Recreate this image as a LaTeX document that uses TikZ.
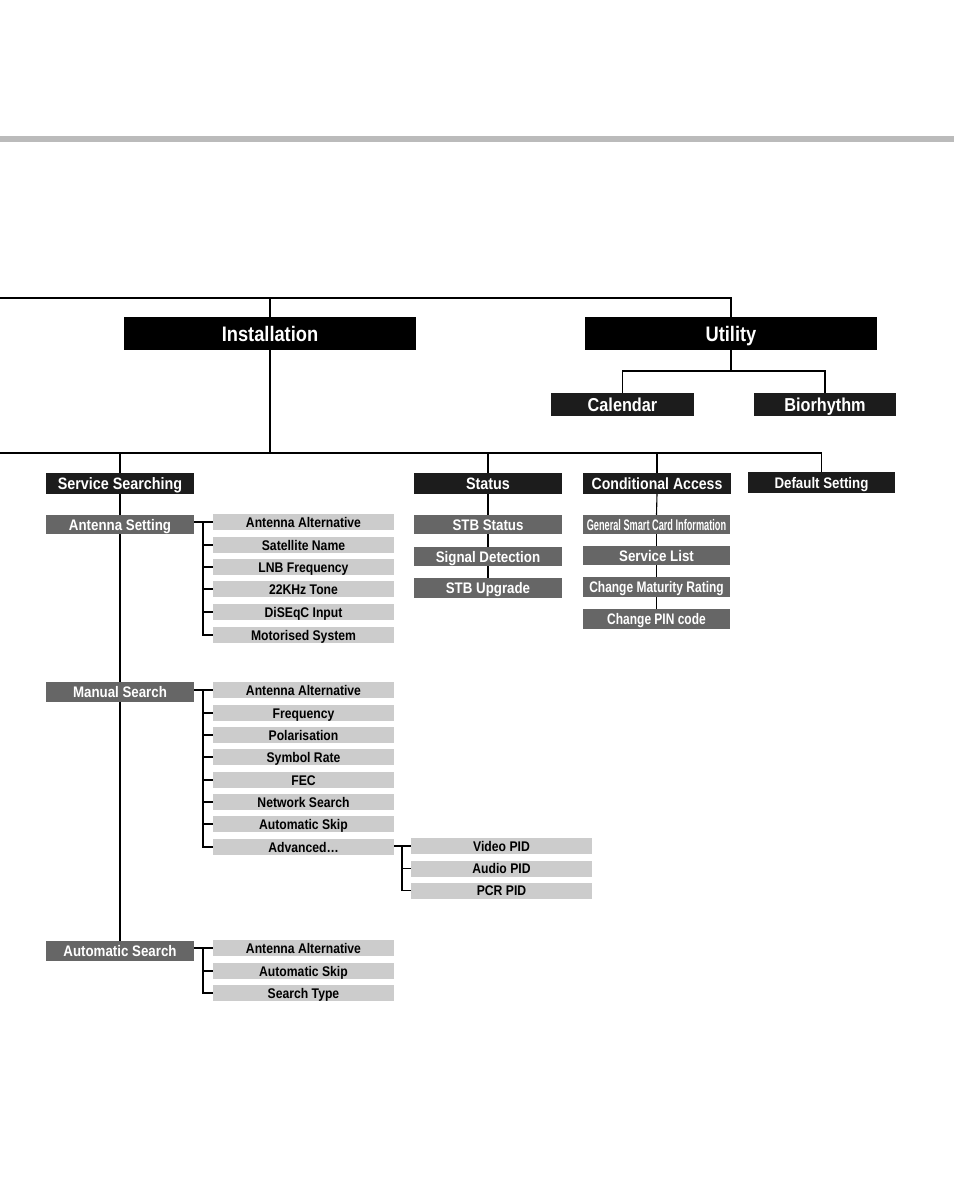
\documentclass[tikz,border=0pt]{standalone}
\usepackage{fontspec}
\newfontfamily\hv[FakeStretch=0.87]{Liberation Sans}
\usetikzlibrary{calc}
\definecolor{lvltwo}{HTML}{1C1C1C}
\definecolor{lvlthree}{HTML}{666666}
\definecolor{lvlfour}{HTML}{CCCCCC}
\definecolor{band}{HTML}{BBBBBB}
\tikzset{
  box/.style={inner sep=0pt, outer sep=0pt, text depth=0pt},
  lone/.style={box, fill=black, text=white, minimum width=292, minimum height=33,
    text height=15pt, font=\hv\bfseries\fontsize{21}{24}\selectfont},
  ltwo/.style={box, fill=lvltwo, text=white, minimum width=148, minimum height=21,
    text height=11.8pt, font=\hv\bfseries\fontsize{16.5}{18}\selectfont},
  lthree/.style={box, fill=lvlthree, text=white, minimum width=148, minimum height=19.5,
    text height=11pt, font=\hv\bfseries\fontsize{15.3}{17}\selectfont},
  lfour/.style={box, fill=lvlfour, text=black, minimum width=181, minimum height=16,
    text height=10pt, font=\hv\bfseries\fontsize{14}{15}\selectfont},
  conn/.style={draw=black, line width=1.1pt},
}
\begin{document}
\begin{tikzpicture}[x=1pt,y=-1pt]
\useasboundingbox (0,0) rectangle (954,1191);
\fill[band] (0,136) rectangle (954,142);

% level 1
\node[lone] (inst) at (270,333.5) {Installation};
\node[lone] (util) at (731,333.5) {Utility};

% utility children
\node[ltwo, minimum width=143, minimum height=23, text height=13.4pt, font=\hv\bfseries\fontsize{18.7}{20}\selectfont] (cal) at (622.5,404.5) {Calendar};
\node[ltwo, minimum width=142, minimum height=23, text height=13.4pt, font=\hv\bfseries\fontsize{18.7}{20}\selectfont] (bio) at (825,404.5) {Biorhythm};

% installation children
\node[ltwo] (ss) at (120,483.5) {Service Searching};
\node[ltwo] (st) at (488,483.5) {Status};
\node[ltwo, text height=11.6pt, font=\hv\bfseries\fontsize{16.2}{18}\selectfont] (ca) at (657,483.5) {Conditional Access};
\node[ltwo, minimum width=147, text height=11pt, font=\hv\bfseries\fontsize{15.3}{17}\selectfont] (ds) at (821.5,482.5) {Default Setting};

% service searching children
\node[lthree] (ant) at (120,524.5) {Antenna Setting};
\node[lthree] (man) at (120,692) {Manual Search};
\node[lthree] (aut) at (120,951) {Automatic Search};

% status children
\node[lthree] (stb) at (488,524.5) {STB Status};
\node[lthree] (sig) at (488,556.5) {Signal Detection};
\node[lthree] (upg) at (488,588) {STB Upgrade};

% conditional access children
\node[lthree, minimum width=147] (gsc) at (656.5,524.5) {\scalebox{0.69}[1]{General Smart Card Information}};
\node[lthree, minimum width=147] (svl) at (656.5,555.5) {Service List};
\node[lthree, minimum width=147] (cmr) at (656.5,587) {\scalebox{0.9}[1]{Change Maturity Rating}};
\node[lthree, minimum width=147] (pin) at (656.5,619) {\scalebox{0.9}[1]{Change PIN code}};

% antenna setting items
\node[lfour] (a1) at (303.5,522) {Antenna Alternative};
\node[lfour] (a2) at (303.5,545) {Satellite Name};
\node[lfour] (a3) at (303.5,567) {LNB Frequency};
\node[lfour] (a4) at (303.5,589) {22KHz Tone};
\node[lfour] (a5) at (303.5,612) {DiSEqC Input};
\node[lfour] (a6) at (303.5,635) {Motorised System};

% manual search items
\node[lfour] (m1) at (303.5,690) {Antenna Alternative};
\node[lfour] (m2) at (303.5,713) {Frequency};
\node[lfour] (m3) at (303.5,735) {Polarisation};
\node[lfour] (m4) at (303.5,757) {Symbol Rate};
\node[lfour] (m5) at (303.5,780) {FEC};
\node[lfour] (m6) at (303.5,802) {Network Search};
\node[lfour] (m7) at (303.5,824) {Automatic Skip};
\node[lfour] (m8) at (303.5,847) {Advanced…};

% advanced items
\node[lfour] (v1) at (501.5,846) {Video PID};
\node[lfour] (v2) at (501.5,868.5) {Audio PID};
\node[lfour] (v3) at (501.5,890.5) {PCR PID};

% automatic search items
\node[lfour] (s1) at (303.5,948) {Antenna Alternative};
\node[lfour] (s2) at (303.5,971) {Automatic Skip};
\node[lfour] (s3) at (303.5,993) {Search Type};

% connectors
\coordinate (topl) at (0,298);
\coordinate (midl) at (0,453);
\draw[conn] (topl) -| (inst.north);
\draw[conn] (topl) -| (util.north);
\draw[conn] (util.south) -- ++(0,21) -| (cal.north);
\draw[conn] (util.south) -- ++(0,21) -| (bio.north);
\draw[conn] (inst.south) |- (midl);
\draw[conn] (midl) -| (ss.north);
\draw[conn] (midl) -| (st.north);
\draw[conn] (midl) -| (ca.north);
\draw[conn] (midl) -| (ds.north);

\draw[conn] (ss.south) -- (ant.north);
\draw[conn] (ant.south) -- (man.north);
\draw[conn] (man.south) -- (aut.north);

\draw[conn] (st.south) -- (stb.north);
\draw[conn] (stb.south) -- (sig.north);
\draw[conn] (sig.south) -- (upg.north);

\draw[conn] (ca.south) -- (gsc.north);
\draw[conn] (gsc.south) -- (svl.north);
\draw[conn] (svl.south) -- (cmr.north);
\draw[conn] (cmr.south) -- (pin.north);

\draw[conn] (ant.east |- a1.west) -- (a1.west);
\foreach \c in {a2,a3,a4,a5,a6} \draw[conn] (a1.west) ++(-10,0) |- (\c.west);

\draw[conn] (man.east |- m1.west) -- (m1.west);
\foreach \c in {m2,m3,m4,m5,m6,m7,m8} \draw[conn] (m1.west) ++(-10,0) |- (\c.west);

\draw[conn] (m8.east |- v1.west) -- (v1.west);
\foreach \c in {v2,v3} \draw[conn] (v1.west) ++(-9,0) |- (\c.west);

\draw[conn] (aut.east |- s1.west) -- (s1.west);
\foreach \c in {s2,s3} \draw[conn] (s1.west) ++(-10,0) |- (\c.west);
\end{tikzpicture}
\end{document}
